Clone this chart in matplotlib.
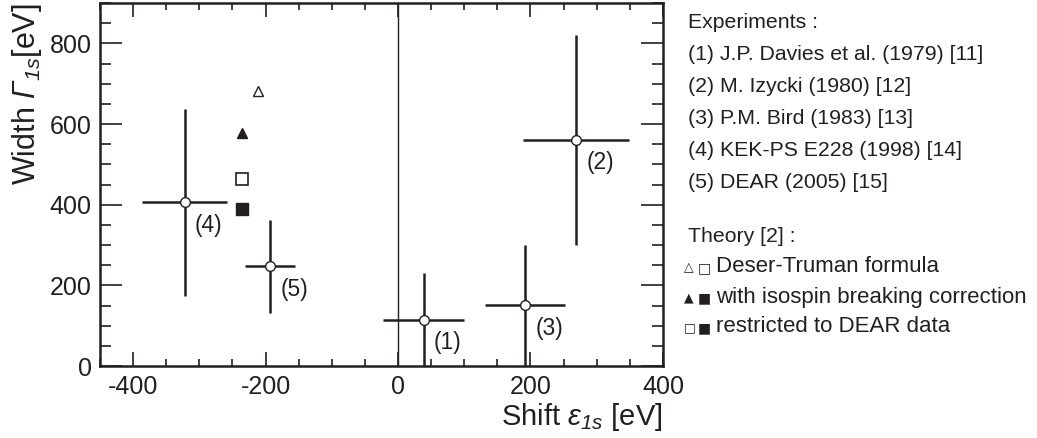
import matplotlib
matplotlib.use("Agg")
import matplotlib.pyplot as plt
from matplotlib.ticker import MultipleLocator

plt.rcParams['font.family'] = ['Liberation Sans', 'DejaVu Sans']
plt.rcParams['mathtext.fontset'] = 'custom'
plt.rcParams['mathtext.rm'] = 'Liberation Sans'
plt.rcParams['mathtext.sf'] = 'Liberation Sans:italic'
plt.rcParams['axes.unicode_minus'] = False

ink = '#231f20'

# experiments: shift, shift error, width, width error
exp_labels = ['(1)', '(2)', '(3)', '(4)', '(5)']
shift = [39, 269, 192, -322, -193]
shift_err = [61, 80, 60, 64, 38]
width = [115, 561, 151, 406, 248]
width_err = [116, 260, 150, 232, 115]

# theory points
th_shift_open_tri, th_width_open_tri = [-211], [681]
th_shift_full_tri, th_width_full_tri = [-236], [578]
th_shift_open_sq, th_width_open_sq = [-235], [465]
th_shift_full_sq, th_width_full_sq = [-235], [389]

legend_lines = ['Experiments :',
                '(1) J.P. Davies et al. (1979) [11]',
                '(2) M. Izycki (1980) [12]',
                '(3) P.M. Bird (1983) [13]',
                '(4) KEK-PS E228 (1998) [14]',
                '(5) DEAR (2005) [15]']
theory_title = 'Theory [2] :'
theory_marks = [('\u25b3', '\u25a1'), ('\u25b2', '\u25a0'), ('\u25a1', '\u25a0')]
theory_lines = ['Deser-Truman formula',
                'with isospin breaking correction',
                'restricted to DEAR data']

fig = plt.figure(figsize=(10.37, 4.38), dpi=100)
ax = fig.add_axes([0.0964, 0.164, 0.5429, 0.829])

ax.axvline(0, color=ink, lw=1)
ax.errorbar(shift, width, xerr=shift_err, yerr=width_err, fmt='o', color=ink,
            ecolor=ink, elinewidth=1.8, capsize=0, ms=7, mfc='white', mec=ink,
            mew=1.0, zorder=3)
for lab, x, y in zip(exp_labels, shift, width):
    ax.annotate(lab, (x, y), xytext=(24, -23), textcoords='offset pixels',
                ha='center', va='center', fontsize=16.5, color=ink)

ax.plot(th_shift_open_tri, th_width_open_tri, '^', ms=7, mfc='white', mec=ink, mew=1.0)
ax.plot(th_shift_full_tri, th_width_full_tri, '^', ms=7, mfc=ink, mec=ink)
ax.plot(th_shift_open_sq, th_width_open_sq, 's', ms=8, mfc='white', mec=ink, mew=1.2)
ax.plot(th_shift_full_sq, th_width_full_sq, 's', ms=8, mfc=ink, mec=ink)

ax.set_xlim(-450, 400)
ax.set_ylim(0, 900)
ax.xaxis.set_major_locator(MultipleLocator(200))
ax.xaxis.set_minor_locator(MultipleLocator(50))
ax.yaxis.set_major_locator(MultipleLocator(200))
ax.yaxis.set_minor_locator(MultipleLocator(50))
ax.tick_params(which='both', direction='in', top=True, right=True, color=ink,
               labelcolor=ink, labelsize=18, width=1.2)
ax.tick_params(axis='x', which='major', length=10, pad=6)
ax.tick_params(axis='x', which='minor', length=5)
ax.tick_params(axis='y', which='major', length=16, pad=6)
ax.tick_params(axis='y', which='minor', length=8)
for s in ax.spines.values():
    s.set_linewidth(1.8)
    s.set_color(ink)

ax.set_xlabel('Shift $\\mathsf{ε}_{\\mathsf{1s}}$ [eV]', loc='right',
              fontsize=21, color=ink, labelpad=2)
ax.set_ylabel('Width $\\mathsf{Γ}_{\\mathsf{1s}}$[eV]', loc='top',
              fontsize=22, color=ink, labelpad=4)

W, H = 1037.0, 438.0
ys = [22, 55, 87, 119, 151, 183]
for t, y in zip(legend_lines, ys):
    fig.text(688 / W, 1 - y / H, t, fontsize=15.3, color=ink, va='center', ha='left')
fig.text(688 / W, 1 - 236 / H, theory_title, fontsize=15.3, color=ink, va='center', ha='left')
for (m1, m2), t, y in zip(theory_marks, theory_lines, [267, 297, 327]):
    fig.text(684 / W, 1 - (y + 1) / H, m1, fontsize=9, color=ink, va='center',
             ha='left', family='DejaVu Sans')
    fig.text(698 / W, 1 - (y + 1) / H, m2, fontsize=10, color=ink, va='center',
             ha='left', family='DejaVu Sans')
    fig.text(716 / W, 1 - y / H, t, fontsize=16, color=ink, va='center', ha='left')

fig.savefig('out.png', dpi=100)
